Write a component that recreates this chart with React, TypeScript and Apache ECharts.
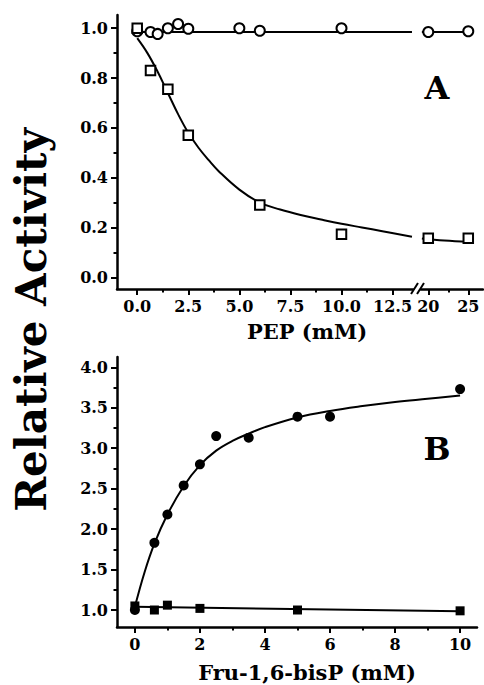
import React, { useEffect, useRef } from "react";
import * as echarts from "echarts";

// ---------- Panel A (PEP) ----------
const aSquareX = [0, 0.65, 1.5, 2.5, 6, 10];
const aSquareY = [1.0, 0.83, 0.755, 0.57, 0.29, 0.173];
const aSquareRightX = [20, 25];
const aSquareRightY = [0.157, 0.157];

const aCircleX = [0, 0.65, 1.0, 1.5, 2.0, 2.5, 5.0, 6.0, 10];
const aCircleY = [0.988, 0.985, 0.977, 1.0, 1.017, 0.998, 1.0, 0.99, 1.0];
const aCircleRightX = [20, 25];
const aCircleRightY = [0.985, 0.988];

const aSquareFitX = [0, 0.5, 1, 1.5, 2, 2.5, 3, 3.5, 4, 5, 6, 7, 8, 9, 10, 11, 12, 13.45];
const aSquareFitY = [0.96, 0.9, 0.825, 0.74, 0.655, 0.58, 0.52, 0.47, 0.425, 0.352, 0.3, 0.272, 0.25, 0.232, 0.215, 0.2, 0.185, 0.163];
const aSquareFitRightX = [19.2, 22, 25];
const aSquareFitRightY = [0.156, 0.148, 0.143];

const aCircleFitX = [0, 13.45];
const aCircleFitY = [0.985, 0.985];
const aCircleFitRightX = [19.2, 25];
const aCircleFitRightY = [0.985, 0.985];

const aLeftMajorX = [0, 2.5, 5, 7.5, 10, 12.5];
const aLeftMinorX = [1.25, 3.75, 6.25, 8.75, 11.25];
const aRightMajorX = [20, 25];
const aRightMinorX = [22.5];
const aMajorY = [0, 0.2, 0.4, 0.6, 0.8, 1.0];
const aMinorY = [0.1, 0.3, 0.5, 0.7, 0.9];

// ---------- Panel B (Fru-1,6-bisP) ----------
const bCircleX = [0, 0.6, 1, 1.5, 2, 2.5, 3.5, 5, 6, 10];
const bCircleY = [1.0, 1.83, 2.18, 2.54, 2.8, 3.15, 3.13, 3.39, 3.39, 3.73];
const bSquareX = [0, 0.6, 1, 2, 5, 10];
const bSquareY = [1.05, 1.0, 1.06, 1.02, 1.0, 0.99];

const bCircleFitX = [0, 0.3, 0.6, 1, 1.5, 2, 2.5, 3, 3.5, 4, 5, 6, 7, 8, 9, 10];
const bCircleFitY = [1.04, 1.47, 1.82, 2.18, 2.53, 2.79, 2.97, 3.09, 3.18, 3.26, 3.38, 3.46, 3.52, 3.57, 3.61, 3.65];
const bSquareFitX = [0, 10];
const bSquareFitY = [1.04, 0.985];

const bMajorX = [0, 2, 4, 6, 8, 10];
const bMinorX = [1, 3, 5, 7, 9];
const bMajorY = [1.0, 1.5, 2.0, 2.5, 3.0, 3.5, 4.0];
const bMinorY = [1.25, 1.75, 2.25, 2.75, 3.25, 3.75];

const FONT = "DejaVu Serif";

const zip = (xs: number[], ys: number[]) => xs.map((x, i) => [x, ys[i]]);

const labelStyle = {
  fontFamily: FONT,
  fontWeight: "bold",
  fontSize: 16,
  color: "#000",
};

function majorAxis(
  gridIndex: number,
  min: number,
  max: number,
  ticks: number[],
  fmt: (v: number) => string,
  position: string,
  showLine = true
) {
  return {
    type: "value",
    gridIndex,
    min,
    max,
    position,
    axisLine: { show: showLine, onZero: false, lineStyle: { color: "#000", width: 2.5 } },
    axisTick: { show: true, customValues: ticks, length: 6, lineStyle: { color: "#000", width: 2 } },
    axisLabel: { show: true, customValues: ticks, formatter: fmt, margin: 9, ...labelStyle },
    splitLine: { show: false },
  };
}

function minorAxis(gridIndex: number, min: number, max: number, ticks: number[], position: string) {
  return {
    type: "value",
    gridIndex,
    min,
    max,
    position,
    axisLine: { show: false, onZero: false },
    axisTick: { show: true, customValues: ticks, length: 3.5, lineStyle: { color: "#000", width: 2 } },
    axisLabel: { show: false },
    splitLine: { show: false },
  };
}

const f1 = (v: number) => v.toFixed(1);
const f0 = (v: number) => String(Math.round(v));

export default function App() {
  const ref = useRef<HTMLDivElement>(null);
  useEffect(() => {
    if (!ref.current) return;
    const chart = echarts.init(ref.current, null, { renderer: "svg" });

    const aYMin = -0.047, aYMax = 1.053;
    const aLMin = -0.99, aLMax = 13.5;
    const aRMin = 19.09, aRMax = 26.84;
    const bXMin = -0.55, bXMax = 10.52;
    const bYMin = 0.79, bYMax = 4.127;

    const lineS = (xi: number, yi: number, xs: number[], ys: number[]) => ({
      type: "line",
      xAxisIndex: xi,
      yAxisIndex: yi,
      data: zip(xs, ys),
      smooth: 0.4,
      showSymbol: false,
      symbol: "none",
      lineStyle: { color: "#000", width: 2 },
      z: 2,
    });
    const scat = (xi: number, yi: number, xs: number[], ys: number[], symbol: string, size: number, filled: boolean) => ({
      type: "scatter",
      xAxisIndex: xi,
      yAxisIndex: yi,
      data: zip(xs, ys),
      symbol,
      symbolSize: size,
      itemStyle: filled
        ? { color: "#000", borderColor: "#000", borderWidth: 0, opacity: 1 }
        : { color: "#000", borderColor: "#000", borderWidth: 1.6, opacity: 1 },
      z: 3,
    });

    chart.setOption({
      animation: false,
      backgroundColor: "#fff",
      grid: [
        { left: 117, top: 15, width: 296, height: 274 },
        { left: 421, top: 15, width: 62, height: 274 },
        { left: 117, top: 357, width: 360, height: 270 },
      ],
      xAxis: [
        majorAxis(0, aLMin, aLMax, aLeftMajorX, f1, "bottom"),
        minorAxis(0, aLMin, aLMax, aLeftMinorX, "bottom"),
        majorAxis(1, aRMin, aRMax, aRightMajorX, f0, "bottom"),
        minorAxis(1, aRMin, aRMax, aRightMinorX, "bottom"),
        majorAxis(2, bXMin, bXMax, bMajorX, f0, "bottom"),
        minorAxis(2, bXMin, bXMax, bMinorX, "bottom"),
      ],
      yAxis: [
        majorAxis(0, aYMin, aYMax, aMajorY, f1, "left"),
        minorAxis(0, aYMin, aYMax, aMinorY, "left"),
        { type: "value", gridIndex: 1, min: aYMin, max: aYMax, show: false },
        majorAxis(2, bYMin, bYMax, bMajorY, f1, "left"),
        minorAxis(2, bYMin, bYMax, bMinorY, "left"),
      ],
      series: [
        lineS(0, 0, aSquareFitX, aSquareFitY),
        lineS(2, 2, aSquareFitRightX, aSquareFitRightY),
        lineS(0, 0, aCircleFitX, aCircleFitY),
        lineS(2, 2, aCircleFitRightX, aCircleFitRightY),
        scat(0, 0, aCircleX, aCircleY, "emptyCircle", 10, false),
        scat(2, 2, aCircleRightX, aCircleRightY, "emptyCircle", 10, false),
        scat(0, 0, aSquareX, aSquareY, "emptyRect", 9.5, false),
        scat(2, 2, aSquareRightX, aSquareRightY, "emptyRect", 9.5, false),
        lineS(4, 3, bCircleFitX, bCircleFitY),
        lineS(4, 3, bSquareFitX, bSquareFitY),
        scat(4, 3, bCircleX, bCircleY, "circle", 10, true),
        scat(4, 3, bSquareX, bSquareY, "rect", 9, true),
      ],
      graphic: [
        {
          type: "line",
          shape: { x1: 411, y1: 294, x2: 418, y2: 283 },
          style: { stroke: "#000", lineWidth: 2 },
        },
        {
          type: "line",
          shape: { x1: 417, y1: 294, x2: 424, y2: 283 },
          style: { stroke: "#000", lineWidth: 2 },
        },
        {
          type: "text",
          x: 307,
          y: 331,
          style: {
            text: "PEP (mM)",
            fontFamily: FONT,
            fontWeight: "bold",
            fontSize: 21,
            fill: "#000",
            textAlign: "center",
            textVerticalAlign: "middle",
          },
        },
        {
          type: "text",
          x: 307,
          y: 672,
          style: {
            text: "Fru-1,6-bisP (mM)",
            fontFamily: FONT,
            fontWeight: "bold",
            fontSize: 21,
            fill: "#000",
            textAlign: "center",
            textVerticalAlign: "middle",
          },
        },
        {
          type: "text",
          x: 31,
          y: 320,
          rotation: Math.PI / 2,
          style: {
            text: "Relative Activity",
            fontFamily: FONT,
            fontWeight: "bold",
            fontSize: 42,
            fill: "#000",
            textAlign: "center",
            textVerticalAlign: "middle",
          },
        },
        {
          type: "text",
          x: 437,
          y: 88,
          style: {
            text: "A",
            fontFamily: FONT,
            fontWeight: "bold",
            fontSize: 32,
            fill: "#000",
            textAlign: "center",
            textVerticalAlign: "middle",
          },
        },
        {
          type: "text",
          x: 437,
          y: 449,
          style: {
            text: "B",
            fontFamily: FONT,
            fontWeight: "bold",
            fontSize: 32,
            fill: "#000",
            textAlign: "center",
            textVerticalAlign: "middle",
          },
        },
      ],
    });
    return () => chart.dispose();
  }, []);
  return (
    <div
      ref={ref}
      style={{ position: "absolute", left: 0, top: 0, width: 484, height: 685 }}
    />
  );
}
